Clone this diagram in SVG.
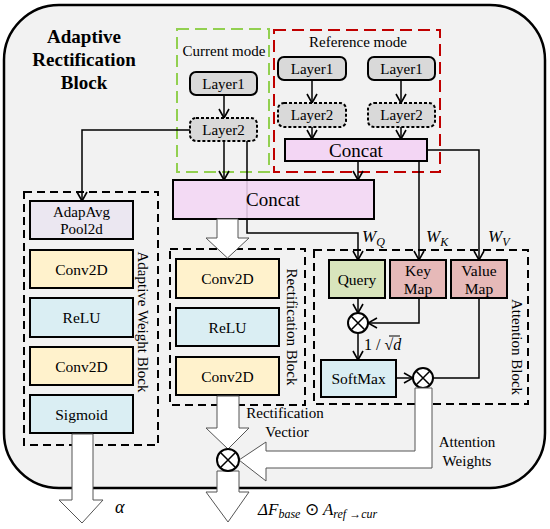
<svg xmlns="http://www.w3.org/2000/svg" width="550" height="529" viewBox="0 0 550 529" font-family="Liberation Serif, serif">
<defs>
<style>
text{font-family:'Liberation Serif',serif;fill:#000}
.lbl{font-size:15.5px;text-anchor:middle}
.box{stroke:#000;stroke-width:2}
.conv{fill:#fff2cc}
.blue{fill:#daeef3}
.pool{fill:#ebe7f1}
.q{fill:#d8e4bc}
.kv{fill:#e6b9b8}
.cat{fill:#f3d6f4}
.layer{fill:#d9d9d9;stroke:#000;stroke-width:2}
.dot{stroke-dasharray:3 2}
.blk{fill:none;stroke:#000;stroke-width:2;stroke-dasharray:8 5}
.con{fill:none;stroke:#000;stroke-width:1.5}
.hol{fill:#fff;stroke:#555;stroke-width:1}
.ot{fill:#fff;stroke:#000;stroke-width:2}
.it{font-style:italic}
</style>
<marker id="ah" viewBox="0 0 12 12" refX="11" refY="6" markerWidth="12" markerHeight="12" markerUnits="userSpaceOnUse" orient="auto">
<polyline points="2,1 11,6 2,11" fill="none" stroke="#000" stroke-width="1.6"/>
</marker>
</defs>

<rect x="4" y="5" width="541" height="483" rx="55" fill="#f2f2f2" stroke="#000" stroke-width="2.5"/>

<g id="title">
<text x="84" y="43" style="font-size:19px;font-weight:bold;text-anchor:middle">Adaptive</text>
<text x="84" y="66" style="font-size:19px;font-weight:bold;text-anchor:middle">Rectification</text>
<text x="84" y="89" style="font-size:19px;font-weight:bold;text-anchor:middle">Block</text>
</g>

<g id="current-mode">
<rect x="177" y="29" width="92" height="143" fill="none" stroke="#92d050" stroke-width="2" stroke-dasharray="12 6"/>
<text x="224" y="56" style="font-size:15px;text-anchor:middle">Current mode</text>
</g>
<g id="reference-mode">
<rect x="274" y="30" width="166" height="142" fill="none" stroke="#c00000" stroke-width="2" stroke-dasharray="12 6"/>
<text x="358" y="47" style="font-size:15px;text-anchor:middle">Reference mode</text>
</g>

<g id="connectors">
<line class="con" x1="224" y1="95" x2="224" y2="118" marker-end="url(#ah)"/>
<line class="con" x1="312" y1="80" x2="312" y2="103" marker-end="url(#ah)"/>
<line class="con" x1="401" y1="80" x2="401" y2="103" marker-end="url(#ah)"/>
<line class="con" x1="312" y1="127" x2="312" y2="139" marker-end="url(#ah)"/>
<line class="con" x1="401" y1="127" x2="401" y2="139" marker-end="url(#ah)"/>
<line class="con" x1="224" y1="141" x2="224" y2="180" marker-end="url(#ah)"/>
<line class="con" x1="358" y1="161" x2="358" y2="180" marker-end="url(#ah)"/>
<polyline class="con" points="190,130 82,130 82,201" marker-end="url(#ah)"/>
<polyline class="con" points="247,141 247,233 358,233 358,260" marker-end="url(#ah)"/>
<line class="con" x1="419" y1="161" x2="419" y2="260" marker-end="url(#ah)"/>
<polyline class="con" points="427,150 479,150 479,260" marker-end="url(#ah)"/>
<line class="con" x1="358" y1="298" x2="358" y2="313" marker-end="url(#ah)"/>
<polyline class="con" points="419,298 419,323 368,323" marker-end="url(#ah)"/>
<line class="con" x1="358" y1="333" x2="358" y2="360" marker-end="url(#ah)"/>
<line class="con" x1="396" y1="378" x2="413" y2="378" marker-end="url(#ah)"/>
<polyline class="con" points="479,298 479,378 433,378"/>
</g>

<g id="layer1-cur"><rect class="layer" x="190" y="72" width="67" height="23" rx="6"/><text class="lbl" x="223.5" y="89" style="font-size:15px">Layer1</text></g>
<g id="layer2-cur"><rect class="layer dot" x="190" y="118" width="67" height="23" rx="6"/><text class="lbl" x="223.5" y="135" style="font-size:15px">Layer2</text></g>
<g id="layer1-ref-a"><rect class="layer" x="278" y="57" width="68" height="23" rx="6"/><text class="lbl" x="312" y="74" style="font-size:15px">Layer1</text></g>
<g id="layer1-ref-b"><rect class="layer" x="368" y="57" width="67" height="23" rx="6"/><text class="lbl" x="401.5" y="74" style="font-size:15px">Layer1</text></g>
<g id="layer2-ref-a"><rect class="layer dot" x="278" y="103" width="68" height="24" rx="6"/><text class="lbl" x="312" y="120" style="font-size:15px">Layer2</text></g>
<g id="layer2-ref-b"><rect class="layer dot" x="368" y="103" width="67" height="24" rx="6"/><text class="lbl" x="401.5" y="120" style="font-size:15px">Layer2</text></g>
<g id="concat-ref"><rect class="box cat" x="285" y="139" width="142" height="22"/><text class="lbl" x="356" y="157" style="font-size:19px">Concat</text></g>
<g id="concat-main"><rect class="box cat" x="173" y="180" width="201" height="39" fill-opacity="0.88"/><text class="lbl" x="273" y="206" style="font-size:19px">Concat</text></g>

<g id="adaptive-weight-block">
<rect class="blk" x="24" y="192" width="134" height="253"/>
<text x="143" y="322" transform="rotate(90 143 322)" style="font-size:15px;text-anchor:middle;dominant-baseline:central">Adaptive Weight Block</text>
</g>
<g id="adapavg"><rect class="box pool" x="30" y="201" width="103" height="38"/><text class="lbl" x="81.5" y="217" style="font-size:15px">AdapAvg</text><text class="lbl" x="81.5" y="234" style="font-size:15px">Pool2d</text></g>
<g id="aw-conv1"><rect class="box conv" x="30" y="250" width="103" height="38"/><text class="lbl" x="81.5" y="275">Conv2D</text></g>
<g id="aw-relu"><rect class="box blue" x="30" y="298" width="103" height="39"/><text class="lbl" x="81.5" y="323">ReLU</text></g>
<g id="aw-conv2"><rect class="box conv" x="30" y="347" width="103" height="38"/><text class="lbl" x="81.5" y="372">Conv2D</text></g>
<g id="aw-sigmoid"><rect class="box blue" x="30" y="395" width="103" height="38"/><text class="lbl" x="81.5" y="420">Sigmoid</text></g>

<g id="rectification-block">
<rect class="blk" x="170" y="249" width="135" height="156"/>
<text x="292" y="327" transform="rotate(90 292 327)" style="font-size:15px;text-anchor:middle;dominant-baseline:central">Rectification Block</text>
</g>
<g id="rb-conv1"><rect class="box conv" x="176" y="259" width="103" height="39"/><text class="lbl" x="227.5" y="284">Conv2D</text></g>
<g id="rb-relu"><rect class="box blue" x="176" y="308" width="103" height="38"/><text class="lbl" x="227.5" y="333">ReLU</text></g>
<g id="rb-conv2"><rect class="box conv" x="176" y="357" width="103" height="38"/><text class="lbl" x="227.5" y="382">Conv2D</text></g>

<g id="attention-block">
<rect class="blk" x="314" y="250" width="214" height="154"/>
<text x="517" y="347" transform="rotate(90 517 347)" style="font-size:15px;text-anchor:middle;dominant-baseline:central">Attention Block</text>
</g>
<g id="query"><rect class="box q" x="329" y="260" width="56" height="38"/><text class="lbl" x="357" y="285">Query</text></g>
<g id="keymap"><rect class="box kv" x="390" y="260" width="56" height="38"/><text class="lbl" x="418" y="276">Key</text><text class="lbl" x="418" y="294">Map</text></g>
<g id="valuemap"><rect class="box kv" x="451" y="260" width="56" height="38"/><text class="lbl" x="479" y="276">Value</text><text class="lbl" x="479" y="294">Map</text></g>
<g id="softmax"><rect class="box blue" x="321" y="360" width="75" height="37"/><text class="lbl" x="358.5" y="384">SoftMax</text></g>

<g id="mul-qk"><circle class="ot" cx="358" cy="323" r="10"/><path d="M351,316 L365,330 M365,316 L351,330" stroke="#000" stroke-width="1.5"/></g>
<g id="mul-v"><circle class="ot" cx="423" cy="378" r="10"/><path d="M416,371 L430,385 M430,371 L416,385" stroke="#000" stroke-width="1.5"/></g>

<g id="wlabels">
<text x="362" y="242" class="it" style="font-size:17px">W<tspan dy="4" style="font-size:12px">Q</tspan></text>
<text x="426" y="242" class="it" style="font-size:17px">W<tspan dy="4" style="font-size:12px">K</tspan></text>
<text x="488" y="242" class="it" style="font-size:17px">W<tspan dy="4" style="font-size:12px">V</tspan></text>
<text x="364" y="350" style="font-size:16px">1 / √<tspan class="it">d</tspan></text>
<line x1="389" y1="336" x2="400" y2="336" stroke="#000" stroke-width="1"/>
</g>

<g id="hollow-arrows">
<polygon class="hol" points="217,219 238,219 238,238 249,238 227.5,258 206,238 217,238"/>
<polygon class="hol" points="217,396 239,396 239,428 249,428 228,449 206,428 217,428"/>
<polygon class="hol" points="217,471 239,471 239,492 249,492 228,522 206,492 217,492"/>
<polygon class="hol" points="72,434 93,434 93,500 103,500 82,523 59,500 72,500"/>
<polygon class="hol" points="415,388 432,388 432,468 266,468 266,481 239,460 266,442 266,451 415,451"/>
</g>

<g id="mul-out"><circle class="ot" cx="228" cy="460" r="11"/><path d="M220.5,452.5 L235.5,467.5 M235.5,452.5 L220.5,467.5" stroke="#000" stroke-width="1.5"/></g>

<g id="texts">
<text x="285" y="418" class="lbl" style="font-size:15px">Rectification</text>
<text x="287" y="437" class="lbl" style="font-size:15px">Vectior</text>
<text x="467" y="447" class="lbl" style="font-size:15px">Attention</text>
<text x="467" y="466" class="lbl" style="font-size:15px">Weights</text>
<text x="115" y="513" class="it" style="font-size:18px">α</text>
<text x="258" y="515" class="it" style="font-size:17px">ΔF<tspan dy="3" style="font-size:12px">base</tspan><tspan dy="-3" style="font-style:normal"> ⊙ </tspan>A<tspan dy="3" style="font-size:12px">ref →cur</tspan></text>
</g>
</svg>
